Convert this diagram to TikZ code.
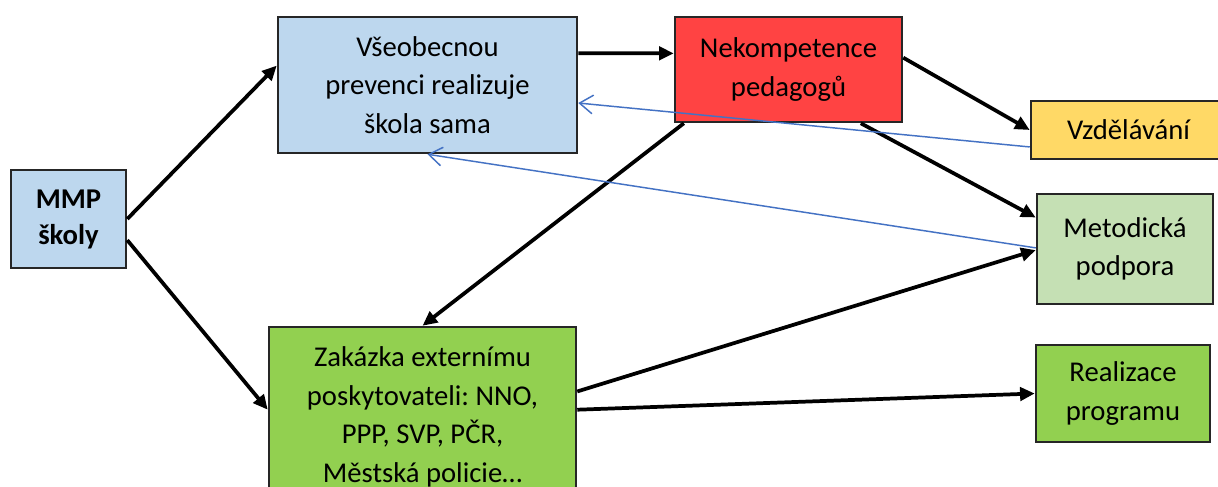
\documentclass[tikz,border=0pt]{standalone}
\usepackage{fontspec}
\setmainfont{Carlito}
\frenchspacing
\usetikzlibrary{arrows.meta,calc}
\definecolor{lblue}{HTML}{BDD7EE}
\definecolor{nred}{HTML}{FF4343}
\definecolor{vyel}{HTML}{FFD966}
\definecolor{mgreen}{HTML}{C5E0B4}
\definecolor{zgreen}{HTML}{92D050}
\definecolor{aline}{HTML}{4472C4}
\tikzset{
  box/.style={draw=black!85,line width=1.9pt,inner sep=0pt,align=center,
    font=\fontsize{21.5}{29}\selectfont},
  blk/.style={line width=2.8pt,-{Triangle[length=11pt,width=10pt]}},
  blu/.style={draw=aline,line width=1.1pt,-{Straight Barb[length=10pt,width=14pt]}}
}
\begin{document}
\begin{tikzpicture}[x=0.75pt,y=-0.75pt]
\clip (0,0) rectangle (1218,486);
\fill[white] (0,0) rectangle (1218,486);
\node[box,fill=lblue,minimum width=86.25pt,minimum height=73.5pt,font=\fontsize{21.5}{27}\selectfont\bfseries] (mmp) at (68.5,219) {MMP\\ školy};
\node[box,fill=lblue,minimum width=224.25pt,minimum height=102pt] (vse) at (427.5,85) {Všeobecnou\\ prevenci realizuje\\ škola sama};
\node[box,fill=nred,minimum width=170.25pt,minimum height=78.75pt] (nek) at (788.5,69.5) {Nekompetence\\ pedagogů};
\node[box,fill=vyel,minimum width=146.25pt,minimum height=43.5pt] (vzd) at (1128.5,130) {Vzdělávání};
\node[box,fill=mgreen,minimum width=132pt,minimum height=82.5pt] (met) at (1125,249) {Metodická\\ podpora};
\node[box,fill=zgreen,minimum width=230.25pt,minimum height=135pt] (zak) at (422.5,417) {Zakázka externímu\\ poskytovateli: NNO,\\ PPP, SVP, PČR,\\ Městská policie…};
\node[box,fill=zgreen,minimum width=130.5pt,minimum height=72.75pt] (rea) at (1123,393.5) {Realizace\\ programu};

\draw[blk] (mmp.east) -- ($(vse.north west)!0.36!(vse.south west)$);
\draw[blk] ($(mmp.north east)!0.71!(mmp.south east)$) -- ($(zak.north west)!0.46!(zak.south west)$);
\draw[blk] ($(vse.north east)!0.27!(vse.south east)$) -- ($(nek.north west)!0.35!(nek.south west)$);
\draw[blk] ($(nek.north east)!0.39!(nek.south east)$) -- (vzd.west);
\draw[blk] ($(nek.south west)!0.815!(nek.south east)$) -- ($(met.north west)!0.22!(met.south west)$);
\draw[blk] ($(nek.south west)!0.044!(nek.south east)$) -- (zak.north);
\draw[blk] ($(zak.north east)!0.36!(zak.south east)$) -- ($(met.north west)!0.51!(met.south west)$);
\draw[blk] ($(zak.north east)!0.46!(zak.south east)$) -- (rea.west);

\draw[blu] ($(vzd.north west)!0.78!(vzd.south west)$) -- ($(vse.north east)!0.63!(vse.south east)$);
\draw[blu] ($(met.north west)!0.49!(met.south west)$) -- (vse.south);
\end{tikzpicture}
\end{document}
